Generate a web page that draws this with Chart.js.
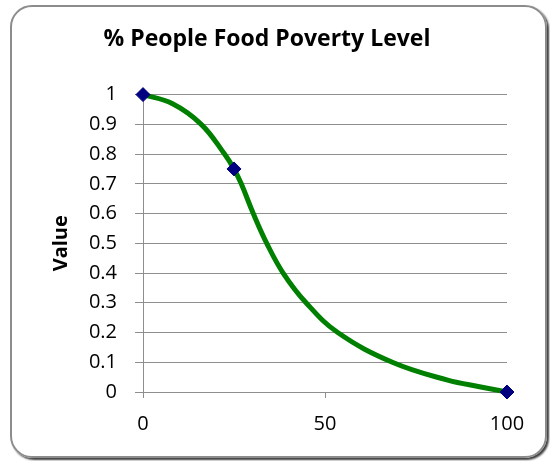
<!DOCTYPE html>
<html>
<head>
<meta charset="utf-8">
<script src="https://cdn.jsdelivr.net/npm/chart.js@4/dist/chart.umd.min.js"></script>
<style>
  html, body { margin: 0; padding: 0; background: #fff; }
  #frame {
    position: absolute; left: 10px; top: 5px; width: 537px; height: 453px;
    box-sizing: border-box; border: 2px solid #8c8c8c; border-radius: 22px;
    box-shadow: 2px 2px 2px rgba(0,0,0,0.75);
  }
  #wrap { position: absolute; left: 0; top: 0; width: 550px; height: 461px; }
</style>
</head>
<body>
<div id="frame"></div>
<div id="wrap"><canvas id="chart" width="550" height="461"></canvas></div>
<script>
// values
const markX = [0, 25, 100];
const markY = [1, 0.75, 0];
const curveX = [0, 8, 16, 22.4, 25, 27, 30.3, 34, 38.5, 44.8, 53.5, 68.5, 83.7, 92.8, 100];
const curveY = [1, 0.97, 0.9, 0.8, 0.75, 0.7, 0.6, 0.5, 0.4, 0.3, 0.2, 0.1, 0.04, 0.017, 0];
const xTicks = [0, 50, 100];
const yTicks = [0, 0.1, 0.2, 0.3, 0.4, 0.5, 0.6, 0.7, 0.8, 0.9, 1];

const fontFam = "'Open Sans', 'Noto Sans', sans-serif";
const gridCol = '#8e8e8e';

const ctx = document.getElementById('chart').getContext('2d');
new Chart(ctx, {
  type: 'scatter',
  data: {
    datasets: [{
      label: 'Points',
      data: markX.map((x, i) => ({ x, y: markY[i] })),
      showLine: false,
      clip: false,
      pointStyle: 'rectRot',
      pointRadius: 7,
      pointHoverRadius: 7,
      backgroundColor: '#000080',
      borderColor: '#000080',
      borderWidth: 1
    }, {
      label: 'Curve',
      data: curveX.map((x, i) => ({ x, y: curveY[i] })),
      showLine: true,
      clip: false,
      pointRadius: 0,
      borderColor: '#008000',
      borderWidth: 5,
      tension: 0.4,
      fill: false
    }]
  },
  options: {
    responsive: false,
    animation: false,
    layout: { padding: { left: 27, right: 43, top: 14, bottom: 20 } },
    plugins: {
      legend: { display: false },
      tooltip: { enabled: false },
      title: {
        display: true,
        text: '% People Food Poverty Level',
        color: '#000',
        font: { family: fontFam, size: 23, weight: 'bold' },
        padding: { top: 12, bottom: 41 }
      }
    },
    scales: {
      x: {
        type: 'linear', min: 0, max: 100,
        afterBuildTicks: s => { s.ticks = xTicks.map(v => ({ value: v })); },
        afterFit: s => { s.height = 49; },
        grid: { drawOnChartArea: false, drawTicks: true, tickLength: 6, color: gridCol },
        border: { display: true, color: gridCol, width: 1 },
        ticks: { color: '#000', font: { family: fontFam, size: 20 }, padding: 14, maxRotation: 0 }
      },
      y: {
        type: 'linear', min: 0, max: 1,
        afterBuildTicks: s => { s.ticks = yTicks.map(v => ({ value: v })); },
        afterFit: s => { s.width = 116; },
        grid: { color: gridCol, lineWidth: 1, tickLength: 8 },
        border: { display: true, color: gridCol, width: 1 },
        ticks: {
          color: '#000', font: { family: fontFam, size: 20 }, padding: 18,
          callback: v => String(Math.round(v * 10) / 10)
        },
        title: {
          display: true, text: 'Value', color: '#000',
          font: { family: fontFam, size: 20, weight: 'bold' },
          padding: { top: 22, bottom: 0 }
        }
      }
    }
  }
});
</script>
</body>
</html>
